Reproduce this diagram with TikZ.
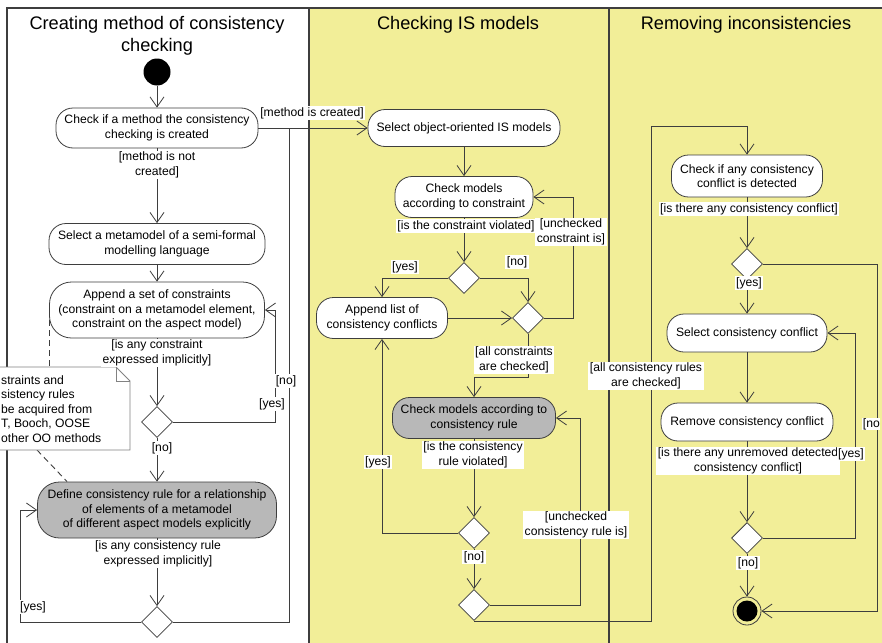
\documentclass[tikz,border=0pt]{standalone}
\usepackage{fontspec}
\setmainfont{Liberation Sans}
\usetikzlibrary{arrows.meta,shapes.geometric,calc}
\definecolor{laneyellow}{RGB}{242,238,152}
\definecolor{linec}{RGB}{62,62,62}
\definecolor{actgray}{RGB}{184,184,184}
\definecolor{notec}{RGB}{130,130,130}
\newcommand{\actfont}{\fontsize{12.15}{14.6}\selectfont}
\newcommand{\lanetitlefont}{\fontsize{18.2}{22}\selectfont}
\begin{document}
\begin{tikzpicture}[x=1pt,y=-1pt,
  act/.style={draw=linec, line width=0.8pt, fill=white, rounded corners=17pt, align=center, font=\actfont, inner sep=0pt},
  grayact/.style={act, fill=actgray},
  dec/.style={draw=linec, line width=0.8pt, fill=white, diamond, aspect=1, minimum width=31pt, minimum height=31pt, inner sep=0pt},
  guard/.style={fill=white, inner sep=1.5pt, align=center, font=\actfont},
  conn/.style={draw=linec, line width=0.8pt},
  flow/.style={conn, -{Straight Barb[length=10pt,width=14pt]}},
  notelink/.style={draw=linec, line width=0.9pt, dash pattern=on 6pt off 4pt},
  lanetitle/.style={font=\lanetitlefont, align=center, anchor=north, inner sep=0pt},
  frameline/.style={draw=linec, line width=1.2pt}]
\useasboundingbox (0,0) rectangle (882,642);
\clip (0,0) rectangle (882,642);
% background and lanes
\fill[white] (0,0) rectangle (882,642);
\fill[laneyellow] (309,8) rectangle (890,650);
\draw[frameline] (7,650) -- (7,8) -- (890,8);
\draw[frameline] (309,8) -- (309,650);
\draw[frameline] (609,8) -- (609,650);
\node[lanetitle] (t1) at (157,16) {Creating method of consistency\\checking};
\node[lanetitle] (t2) at (458,16) {Checking IS models};
\node[lanetitle] (t3) at (746,16) {Removing inconsistencies};

% lane 1 nodes
\node[circle, fill=black, minimum size=27pt, inner sep=0pt] (start) at (157,72) {};
\node[act, minimum width=202pt, minimum height=40pt] (A1) at (157,128) {Check if a method the consistency\\checking is created};
\node[act, minimum width=216pt, minimum height=41pt] (A2) at (157,244) {Select a metamodel of a semi-formal\\modelling language};
\node[act, rounded corners=22pt, minimum width=215pt, minimum height=56pt] (A3) at (157,310) {Append a set of constraints\\(constraint on a metamodel element,\\constraint on the aspect model)};
\node[dec] (D1) at (157,422) {};
\node[grayact, rounded corners=22pt, minimum width=239pt, minimum height=56pt] (R) at (157,510) {Define consistency rule for a relationship\\of elements of a metamodel\\of different aspect models explicitly};
\node[dec] (D2) at (157,622) {};

% lane 2 nodes
\node[act, minimum width=192pt, minimum height=37pt] (S1) at (464,128) {Select object-oriented IS models};
\node[act, minimum width=138pt, minimum height=41pt] (C1) at (464,197) {Check models\\according to constraint};
\node[dec] (D3) at (464,278) {};
\node[dec] (M2) at (528,318) {};
\node[act, minimum width=131pt, minimum height=41pt] (AP) at (382,318) {Append list of\\consistency conflicts};
\node[grayact, minimum width=163pt, minimum height=41pt] (C2) at (474,418) {Check models according to\\consistency rule};
\node[dec] (D4) at (474,533) {};
\node[dec] (M3) at (474,605) {};

% lane 3 nodes
\node[act, minimum width=151pt, minimum height=42pt] (R1) at (747,176) {Check if any consistency\\conflict is detected};
\node[dec] (D5) at (747,264) {};
\node[act, minimum width=160pt, minimum height=38pt] (S2) at (747,333) {Select consistency conflict};
\node[act, minimum width=172pt, minimum height=38pt] (R2) at (747,422) {Remove consistency conflict};
\node[dec] (D6) at (747,538) {};
\node[circle, draw=linec, line width=0.8pt, minimum size=28pt, inner sep=0pt] (F) at (747,611) {};
\node[circle, fill=black, minimum size=21pt, inner sep=0pt] (Fin) at (F) {};

% connectors lane 1
\coordinate (j1) at (289,128);
\draw[flow] (start) -- (A1);
\draw[flow] (A1) -- (A2);
\draw[flow] (A1) -- (S1);
\draw[flow] (A2) -- (A3);
\draw[flow] (A3) -- (D1);
\draw[flow] (D1.east) -| ([xshift=10.5pt]A3.east) -- (A3.east);
\draw[flow] (D1) -- (R);
\draw[flow] (R) -- (D2);
\draw[flow] (D2.west) -| ([xshift=-16.5pt]R.west) -- (R.west);
\draw[conn] (D2.east) -| (j1);

% connectors lane 2
\coordinate (k1) at (528,377);
\draw[flow] (S1) -- (C1);
\draw[flow] (C1) -- (D3);
\draw[flow] (D3.west) -| (AP.north);
\draw[flow] (D3.east) -| (M2.north);
\draw[flow] (AP) -- (M2);
\draw[flow] (M2.east) -| ([xshift=40pt]C1.east) -- (C1.east);
\draw[flow] (M2.south) -- (k1) -| (C2.north);
\draw[flow] (C2) -- (D4);
\draw[flow] (D4.west) -| (AP.south);
\draw[flow] (D4) -- (M3);
\draw[flow] (M3.east) -| ([xshift=24pt]C2.east) -- (C2.east);

% connectors lane 3
\coordinate (k2) at (651,620);
\coordinate (k3) at (651,126);
\coordinate (k4) at (877,264);
\draw[flow] (M3.south) -- (M3.south -| k2) -- (k3) -| (R1.north);
\draw[flow] (R1) -- (D5);
\draw[flow] (D5) -- (S2);
\draw[flow] (D5.east) -- (k4) |- (F.east);
\draw[flow] (S2) -- (R2);
\draw[flow] (R2) -- (D6);
\draw[flow] (D6.east) -| ([xshift=28pt]S2.east) -- (S2.east);
\draw[flow] (D6) -- (F);

% note
\coordinate (nt) at (50,367);
\coordinate (nb) at (37,450);
\draw[notelink] (A3.west) -- (A3.west |- nt);
\draw[notelink] (nb) -- ([xshift=30pt]R.north west);
\draw[draw=notec, line width=0.8pt, fill=white] (-40,367) -- (116,367) -- (130,381) -- (130,450) -- (-40,450) -- cycle;
\draw[draw=notec, line width=0.8pt] (116,367) -- (116,381) -- (130,381);
\node[anchor=west, align=left, font=\actfont, inner sep=0pt] (note) at (1,409) {straints and\\sistency rules\\be acquired from\\T, Booch, OOSE\\other OO methods};

% guards
\node[guard] (g1) at (157,165) {[method is not\\created]};
\node[guard] (g2) at (312,113) {[method is created]};
\node[guard] (g3) at (157,353) {[is any constraint\\expressed implicitly]};
\node[guard] (g4) at (286,381) {[no]};
\node[guard] (g5) at (272,404) {[yes]};
\node[guard] (g6) at (162,448) {[no]};
\node[guard] (g7) at (158,554) {[is any consistency rule\\expressed implicitly]};
\node[guard] (g8) at (33,607) {[yes]};
\node[guard] (g9) at (466,226) {[is the constraint violated]};
\node[guard] (g10) at (571,232) {[unchecked\\constraint is]};
\node[guard] (g11) at (405,267) {[yes]};
\node[guard] (g12) at (517,262) {[no]};
\node[guard] (g13) at (514,360) {[all constraints\\are checked]};
\node[guard] (g14) at (473,455) {[is the consistency\\rule violated]};
\node[guard] (g15) at (378,462) {[yes]};
\node[guard] (g16) at (474,557) {[no]};
\node[guard] (g17) at (576,525) {[unchecked\\consistency rule is]};
\node[guard] (g18) at (646,376) {[all consistency rules\\are checked]};
\node[guard] (g19) at (749,209) {[is there any consistency conflict]};
\node[guard] (g20) at (749,283) {[yes]};
\node[guard, anchor=east, inner sep=0.5pt] (g21) at (880.5,424) {[no};
\node[guard] (g22) at (748,461) {[is there any unremoved detected\\consistency conflict]};
\node[guard] (g23) at (851,454) {[yes]};
\node[guard] (g24) at (748,563) {[no]};
\end{tikzpicture}
\end{document}
